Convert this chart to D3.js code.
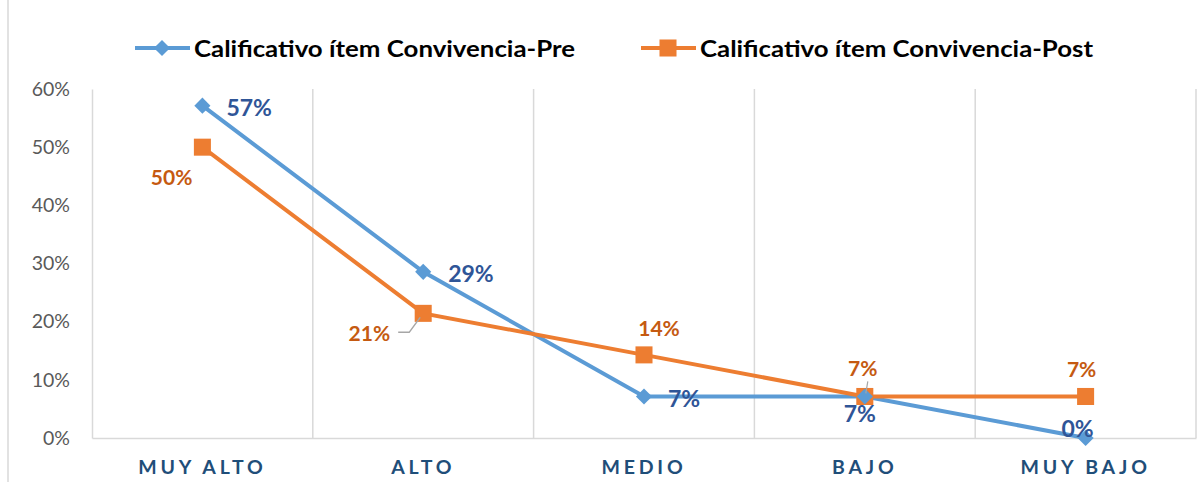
<!DOCTYPE html>
<html lang="es">
<head>
<meta charset="UTF-8">
<title>Calificativo ítem Convivencia</title>
<script src="https://d3js.org/d3.v7.min.js"></script>
<style>
  body { margin: 0; background: #fff; }
  svg { display: block; font-family: Lato, "Open Sans", sans-serif; }
</style>
</head>
<body>
<div id="chart"></div>
<script>
// data
const categories = ["MUY ALTO", "ALTO", "MEDIO", "BAJO", "MUY BAJO"];
const preValues  = [0.5714, 0.2857, 0.0714, 0.0714, 0];
const postValues = [0.5, 0.2143, 0.1429, 0.0714, 0.0714];
const yTicks = [0, 0.1, 0.2, 0.3, 0.4, 0.5, 0.6];
const seriesNames = ["Calificativo ítem Convivencia-Pre", "Calificativo ítem Convivencia-Post"];

const width = 1202, height = 482;
const plotLeft = 92, plotRight = 1196, plotTop = 89, plotBottom = 438;

const svg = d3.select("#chart").append("svg")
    .attr("width", width)
    .attr("height", height);

// frame line on the left side
svg.append("line")
    .attr("x1", 8).attr("x2", 8).attr("y1", 0).attr("y2", height)
    .attr("stroke", "#d9d9d9").attr("stroke-width", 1.5);

const x = d3.scaleBand().domain(categories).range([plotLeft, plotRight]);
const y = d3.scaleLinear().domain([0, 0.6]).range([plotBottom, plotTop]);
const cx = d => x(d) + x.bandwidth() / 2;

// vertical gridlines on category boundaries
const gridX = categories.slice(1).map(c => x(c)).concat([plotRight]);
svg.append("g").selectAll("line")
    .data(gridX)
    .join("line")
    .attr("x1", d => d).attr("x2", d => d)
    .attr("y1", plotTop).attr("y2", plotBottom)
    .attr("stroke", "#d9d9d9").attr("stroke-width", 1.5);

// y axis
const yAxis = svg.append("g")
    .attr("transform", `translate(${plotLeft},0)`)
    .call(d3.axisLeft(y).tickValues(yTicks).tickFormat(d3.format(".0%")).tickSize(0).tickPadding(22));
yAxis.select(".domain").attr("stroke", "#d9d9d9").attr("stroke-width", 1.5);
yAxis.selectAll("text")
    .attr("fill", "#595959")
    .style("font-size", "19.5px")
    .style("font-family", "Lato, 'Open Sans', sans-serif");

// x axis
const xAxis = svg.append("g")
    .attr("transform", `translate(0,${plotBottom})`)
    .call(d3.axisBottom(x).tickSize(0).tickPadding(22));
xAxis.select(".domain").attr("stroke", "#d9d9d9").attr("stroke-width", 1.5);
xAxis.selectAll("text")
    .attr("fill", "#1f4e79")
    .style("font-size", "19.5px")
    .style("font-weight", "bold")
    .style("letter-spacing", "3.8px")
    .style("font-family", "Lato, 'Open Sans', sans-serif");

const preColor = "#5b9bd5", postColor = "#ed7d31";
const line = d3.line().x((d, i) => cx(categories[i])).y(d => y(d));

svg.append("path").datum(preValues)
    .attr("d", line).attr("fill", "none")
    .attr("stroke", preColor).attr("stroke-width", 4);
svg.append("path").datum(postValues)
    .attr("d", line).attr("fill", "none")
    .attr("stroke", postColor).attr("stroke-width", 4);

const diamond = d3.symbol(d3.symbolSquare, 130);
const square = d3.symbol(d3.symbolSquare, 290);

svg.append("g").selectAll("path")
    .data(postValues)
    .join("path")
    .attr("d", square)
    .attr("fill", postColor)
    .attr("transform", (d, i) => `translate(${cx(categories[i])},${y(d)})`);

svg.append("g").selectAll("path")
    .data(preValues)
    .join("path")
    .attr("d", diamond)
    .attr("fill", preColor)
    .attr("transform", (d, i) => `translate(${cx(categories[i])},${y(d)}) rotate(45)`);

// data label placement (offsets from the point)
const prePlace = [
  { dx: 24, dy: 1, anchor: "start" },
  { dx: 25, dy: 1, anchor: "start" },
  { dx: 24, dy: 2, anchor: "start" },
  { dx: -5, dy: 17, anchor: "middle" },
  { dx: -8, dy: -10, anchor: "middle" }
];
const postPlace = [
  { dx: -10, dy: 29, anchor: "end" },
  { dx: -33, dy: 19, anchor: "end" },
  { dx: 15, dy: -27, anchor: "middle" },
  { dx: -2, dy: -29, anchor: "middle" },
  { dx: -4, dy: -28, anchor: "middle" }
];
const pct = d3.format(".0%");

// leader lines
svg.append("polyline")
    .attr("points", [[cx("ALTO") - 25, y(postValues[1]) + 19], [cx("ALTO") - 14, y(postValues[1]) + 19], [cx("ALTO") - 3, y(postValues[1]) + 4]].join(" "))
    .attr("fill", "none").attr("stroke", "#a6a6a6").attr("stroke-width", 1.5);
svg.append("line")
    .attr("x1", cx("BAJO") + 3).attr("y1", y(postValues[3]) - 15)
    .attr("x2", cx("BAJO") + 1).attr("y2", y(postValues[3]) - 3)
    .attr("stroke", "#a6a6a6").attr("stroke-width", 1.2);

svg.append("g").selectAll("text")
    .data(preValues)
    .join("text")
    .attr("x", (d, i) => cx(categories[i]) + prePlace[i].dx)
    .attr("y", (d, i) => y(d) + prePlace[i].dy)
    .attr("text-anchor", (d, i) => prePlace[i].anchor)
    .attr("dominant-baseline", "central")
    .attr("fill", "#2f5597")
    .style("font-size", "23px")
    .style("font-weight", "bold")
    .text(d => pct(d));

svg.append("g").selectAll("text")
    .data(postValues)
    .join("text")
    .attr("x", (d, i) => cx(categories[i]) + postPlace[i].dx)
    .attr("y", (d, i) => y(d) + postPlace[i].dy)
    .attr("text-anchor", (d, i) => postPlace[i].anchor)
    .attr("dominant-baseline", "central")
    .attr("fill", "#c55a11")
    .style("font-size", "21px")
    .style("font-weight", "bold")
    .text(d => pct(d));

// legend
const legend = [
  { name: seriesNames[0], color: preColor, x: 135, sym: diamond, rot: 45, tl: 381 },
  { name: seriesNames[1], color: postColor, x: 641, sym: square, rot: 0, tl: 393 }
];
const lg = svg.append("g").selectAll("g")
    .data(legend)
    .join("g")
    .attr("transform", d => `translate(${d.x},48)`);
lg.append("line")
    .attr("x1", 0).attr("x2", 55)
    .attr("stroke", d => d.color).attr("stroke-width", 4);
lg.append("path")
    .attr("d", d => d.sym())
    .attr("fill", d => d.color)
    .attr("transform", d => `translate(27,0) rotate(${d.rot})`);
lg.append("text")
    .attr("x", 59)
    .attr("dominant-baseline", "central")
    .attr("textLength", d => d.tl)
    .attr("lengthAdjust", "spacingAndGlyphs")
    .style("font-size", "23px")
    .style("font-weight", "bold")
    .attr("fill", "#000")
    .text(d => d.name);
</script>
</body>
</html>
